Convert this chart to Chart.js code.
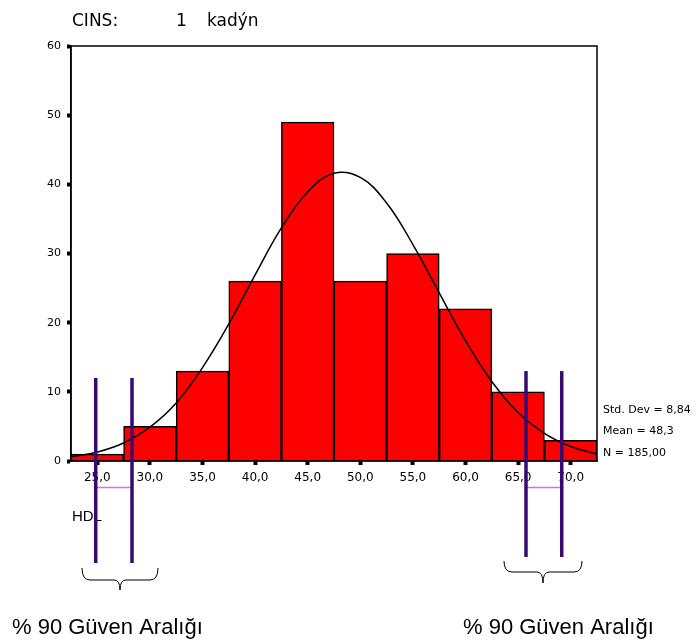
<!DOCTYPE html>
<html>
<head>
<meta charset="utf-8">
<script src="https://cdn.jsdelivr.net/npm/chart.js@4.4.1/dist/chart.umd.min.js"></script>
<style>
    html, body { margin: 0; padding: 0; background: #fff; }
    #wrap { width: 697px; height: 644px; position: relative; }
</style>
</head>
<body>
<div id="wrap"><canvas id="histChart" width="697" height="644"></canvas></div>
<script>
// Histogram of HDL for CINS = 1 (kadýn), bins of width 5
const binCenters = [25, 30, 35, 40, 45, 50, 55, 60, 65, 70];
const binCounts = [1, 5, 13, 26, 49, 26, 30, 22, 10, 3];

// Normal curve
const curveX = [22.5, 25, 27.5, 30, 32.5, 35, 37.5, 40, 42.5, 45, 47.5, 50, 52.5, 55, 57.5, 60, 62.5, 65, 67.5, 70, 72.5];
const curveY = [0.6, 1.3, 2.6, 4.9, 8.4, 13.5, 19.8, 26.9, 33.7, 38.9, 41.6, 41.0, 37.3, 31.3, 24.3, 17.4, 11.5, 7.0, 4.0, 2.1, 1.0];

const xTicks = [25, 30, 35, 40, 45, 50, 55, 60, 65, 70];
const xTickLabels = ["25,0", "30,0", "35,0", "40,0", "45,0", "50,0", "55,0", "60,0", "65,0", "70,0"];
const yTicks = [0, 10, 20, 30, 40, 50, 60];

const statLines = ["Std. Dev = 8,84", "Mean = 48,3", "N = 185,00"];

// 90% confidence interval marks (HDL units), drawn by hand on the original
const ciLeft = [24.85, 28.3];
const ciRight = [65.75, 69.15];

const spssFont = "'DejaVu Sans', Verdana, sans-serif";

const framePlugin = {
    id: "frame",
    afterDatasetsDraw(chart) {
        const { ctx, chartArea: a } = chart;
        ctx.save();
        ctx.strokeStyle = "#000";
        ctx.lineWidth = 1.5;
        ctx.strokeRect(a.left, a.top, a.right - a.left, a.bottom - a.top);
        ctx.restore();
    }
};

const notesPlugin = {
    id: "notes",
    afterDraw(chart) {
        const { ctx } = chart;
        const xs = chart.scales.x;
        const ys = chart.scales.y;
        ctx.save();

        // title
        ctx.fillStyle = "#000";
        ctx.textBaseline = "alphabetic";
        ctx.font = "17px " + spssFont;
        ctx.fillText("CINS:", 72, 26);
        ctx.fillText("1", 176, 26);
        ctx.fillText("kadýn", 207, 26);

        // stats on the right
        ctx.font = "11px " + spssFont;
        ctx.textBaseline = "middle";
        statLines.forEach((s, i) => ctx.fillText(s, 603, 410 + i * 21.5));

        // HDL label
        ctx.font = "15px 'Liberation Sans', Arial, sans-serif";
        ctx.fillText("HDL", 72, 517);

        // pink connectors
        ctx.strokeStyle = "#e070d0";
        ctx.lineWidth = 1.5;
        [ciLeft, ciRight].forEach(pair => {
            ctx.beginPath();
            ctx.moveTo(xs.getPixelForValue(pair[0]), 487.5);
            ctx.lineTo(xs.getPixelForValue(pair[1]), 487.5);
            ctx.stroke();
        });

        // purple interval lines
        ctx.strokeStyle = "#360a6e";
        ctx.lineWidth = 3.5;
        ciLeft.forEach(v => {
            const px = xs.getPixelForValue(v);
            ctx.beginPath();
            ctx.moveTo(px, ys.getPixelForValue(12));
            ctx.lineTo(px, 563);
            ctx.stroke();
        });
        ciRight.forEach(v => {
            const px = xs.getPixelForValue(v);
            ctx.beginPath();
            ctx.moveTo(px, ys.getPixelForValue(13));
            ctx.lineTo(px, 557);
            ctx.stroke();
        });

        // braces
        function brace(x1, x2, yTop, yMid, yTip) {
            const xm = (x1 + x2) / 2;
            ctx.beginPath();
            ctx.moveTo(x1, yTop);
            ctx.quadraticCurveTo(x1, yMid, x1 + 8, yMid);
            ctx.lineTo(xm - 6, yMid);
            ctx.quadraticCurveTo(xm, yMid, xm, yTip);
            ctx.quadraticCurveTo(xm, yMid, xm + 6, yMid);
            ctx.lineTo(x2 - 8, yMid);
            ctx.quadraticCurveTo(x2, yMid, x2, yTop);
            ctx.stroke();
        }
        ctx.strokeStyle = "#000";
        ctx.lineWidth = 1;
        brace(82, 158, 568, 580, 590);
        brace(504, 582, 561, 572, 583);

        // captions
        ctx.font = "22px 'Liberation Sans', Arial, sans-serif";
        ctx.textBaseline = "middle";
        ctx.fillText("% 90 Güven Aralığı", 12, 628);
        ctx.fillText("% 90 Güven Aralığı", 463, 628);

        ctx.restore();
    }
};

const ctx = document.getElementById("histChart").getContext("2d");
new Chart(ctx, {
    data: {
        datasets: [
            {
                type: "line",
                data: curveX.map((x, i) => ({ x: x, y: curveY[i] })),
                borderColor: "#000",
                borderWidth: 1.5,
                pointRadius: 0,
                tension: 0.4,
                fill: false,
                order: 0
            },
            {
                type: "bar",
                data: binCenters.map((x, i) => ({ x: x, y: binCounts[i] })),
                backgroundColor: "#ff0000",
                borderColor: "#000",
                borderWidth: 1.5,
                barPercentage: 1,
                categoryPercentage: 1,
                order: 1
            }
        ]
    },
    options: {
        responsive: false,
        animation: false,
        layout: { padding: { left: 0, top: 46, right: 100, bottom: 159 } },
        plugins: {
            legend: { display: false },
            tooltip: { enabled: false }
        },
        scales: {
            x: {
                type: "linear",
                offset: false,
                min: 22.5,
                max: 72.5,
                afterBuildTicks: (scale) => {
                    scale.ticks = xTicks.map(v => ({ value: v }));
                },
                afterFit: (scale) => { scale.height = 24; },
                border: { display: true, color: "#000", width: 1.5 },
                grid: { offset: false, drawOnChartArea: false, tickLength: 4, tickWidth: 4, tickColor: "#000" },
                ticks: {
                    color: "#000",
                    padding: 6,
                    font: { family: spssFont, size: 12 },
                    callback: (v) => {
                        const i = xTicks.indexOf(v);
                        return i >= 0 ? xTickLabels[i] : "";
                    }
                }
            },
            y: {
                min: 0,
                max: 60,
                afterBuildTicks: (scale) => {
                    scale.ticks = yTicks.map(v => ({ value: v }));
                },
                afterFit: (scale) => { scale.width = 71; },
                border: { display: true, color: "#000", width: 1.5 },
                grid: { drawOnChartArea: false, tickLength: 4, tickWidth: 4, tickColor: "#000" },
                ticks: {
                    color: "#000",
                    padding: 6,
                    font: { family: spssFont, size: 11 }
                }
            }
        }
    },
    plugins: [framePlugin, notesPlugin]
});
</script>
</body>
</html>
